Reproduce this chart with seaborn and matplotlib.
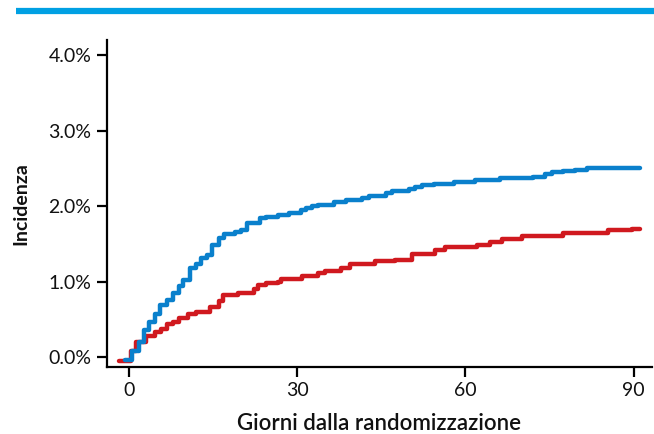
import matplotlib
matplotlib.use("Agg")
import matplotlib.pyplot as plt
from matplotlib.lines import Line2D
from matplotlib.ticker import FuncFormatter
import seaborn as sns
import pandas as pd

blue_days = [-0.8, 0.5, 1.85, 2.6, 3.6, 4.6, 5.6, 6.8, 7.9, 8.9, 9.7, 10.9, 11.9, 12.9, 13.9,
             14.8, 16.0, 16.9, 18.9, 19.9, 21.1, 23.3, 24.4, 26.5, 28.5, 30.7, 31.6, 32.7, 33.7,
             36.6, 38.7, 41.6, 42.8, 45.8, 47.0, 49.9, 51.0, 52.3, 54.4, 57.9, 61.7, 66.2, 72.1,
             74.2, 75.4, 77.5, 79.6, 81.7, 91.2]
blue_vals = [-0.03, 0.08, 0.20, 0.36, 0.47, 0.58, 0.69, 0.76, 0.85, 0.94, 1.02, 1.18, 1.24, 1.31, 1.36,
             1.49, 1.58, 1.63, 1.66, 1.69, 1.78, 1.84, 1.86, 1.89, 1.91, 1.95, 1.98, 2.00, 2.02,
             2.06, 2.08, 2.11, 2.13, 2.17, 2.20, 2.23, 2.25, 2.28, 2.30, 2.32, 2.35, 2.37, 2.39,
             2.42, 2.45, 2.47, 2.48, 2.50, 2.50]

red_days = [-1.7, 0.4, 1.2, 3.0, 4.6, 5.7, 6.8, 7.8, 8.9, 10.5, 11.9, 14.5, 16.1, 16.8, 19.4,
            22.3, 23.0, 24.5, 26.5, 27.1, 30.8, 33.8, 34.9, 37.9, 39.4, 43.9, 47.4, 50.4, 54.6,
            56.4, 62.0, 64.4, 66.5, 70.1, 75.4, 77.5, 85.5, 89.7, 91.2]
red_vals = [-0.05, 0.09, 0.20, 0.28, 0.34, 0.38, 0.44, 0.47, 0.52, 0.58, 0.60, 0.66, 0.74, 0.83, 0.85,
            0.91, 0.96, 0.98, 1.00, 1.03, 1.07, 1.11, 1.14, 1.18, 1.24, 1.27, 1.29, 1.37, 1.42,
            1.46, 1.49, 1.52, 1.57, 1.60, 1.61, 1.65, 1.68, 1.70, 1.70]

x_ticks = [0, 30, 60, 90]
y_ticks = [0, 1, 2, 3, 4]
x_label = "Giorni dalla randomizzazione"
y_label = "Incidenza"

df = pd.concat([
    pd.DataFrame({"giorni": red_days, "incidenza": red_vals, "gruppo": "rosso"}),
    pd.DataFrame({"giorni": blue_days, "incidenza": blue_vals, "gruppo": "blu"}),
], ignore_index=True)

sns.set_theme(style="ticks")
plt.rcParams["font.family"] = ["Lato", "DejaVu Sans"]

fig = plt.figure(figsize=(6.54, 4.34), dpi=100)
ax = fig.add_axes([0.163, 0.154, 0.834, 0.754])

sns.lineplot(data=df, x="giorni", y="incidenza", hue="gruppo",
             palette={"rosso": "#d0191f", "blu": "#0a80cc"},
             hue_order=["rosso", "blu"], estimator=None, sort=True,
             drawstyle="steps-post", linewidth=3.2, legend=False, ax=ax)

ax.set_xlim(-4.0, 93.3)
ax.set_ylim(-0.13, 4.2)
ax.set_xticks(x_ticks)
ax.set_yticks(y_ticks)
ax.yaxis.set_major_formatter(FuncFormatter(lambda v, p: f"{v:.1f}%"))
ax.tick_params(axis="both", length=7, width=1.6, color="black", labelsize=14,
               labelcolor="#111111", pad=4)
for s in ["top", "right"]:
    ax.spines[s].set_visible(False)
for s in ["left", "bottom"]:
    ax.spines[s].set_linewidth(1.6)
    ax.spines[s].set_color("black")

ax.set_xlabel(x_label, fontsize=16, fontweight="semibold", color="#111111", labelpad=10)
ax.set_ylabel(y_label, fontsize=14, fontweight="bold", color="#111111", labelpad=14)

fig.add_artist(Line2D([16 / 654, 1.0], [1 - 11 / 434, 1 - 11 / 434],
                      transform=fig.transFigure, color="#00a0e3", linewidth=4.5,
                      solid_capstyle="butt"))

fig.savefig("out.png", dpi=100)
